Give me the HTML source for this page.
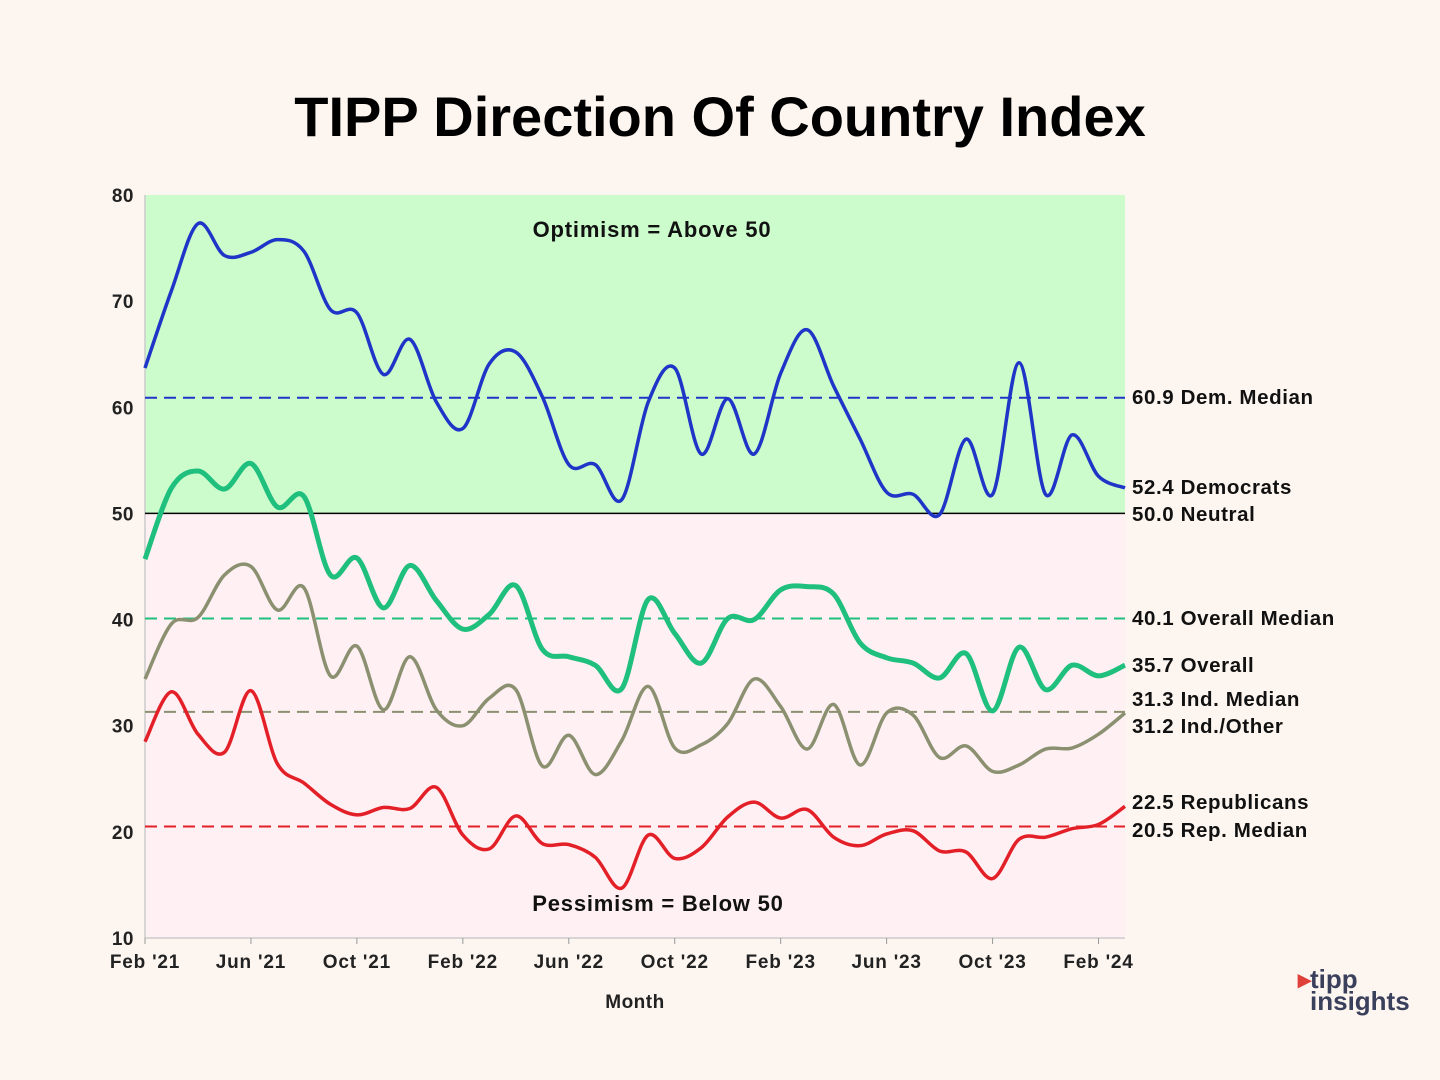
<!DOCTYPE html>
<html><head><meta charset="utf-8"><style>
body{margin:0;background:#fdf6f0;}
svg{display:block;font-family:"Liberation Sans",sans-serif;}
</style></head><body>
<svg id="chart" width="1440" height="1080">
<rect width="1440" height="1080" fill="#fdf6f0"/>
<text x="720" y="136" text-anchor="middle" font-size="56" font-weight="bold" fill="#000">TIPP Direction Of Country Index</text>
<g id="plot"></g>
<g>
<text x="1298" y="988" font-size="26" font-weight="bold" fill="#e0403a">&#9656;</text>
<text x="1310" y="988" font-size="26" font-weight="bold" fill="#3a3f5c">tipp</text>
<text x="1310" y="1010" font-size="26" font-weight="bold" fill="#3a3f5c">insights</text>
</g>
</svg>
<script>
const months=["Feb '21","Jun '21","Oct '21","Feb '22","Jun '22","Oct '22","Feb '23","Jun '23","Oct '23","Feb '24"];
const yTicks=[10,20,30,40,50,60,70,80];
const dem=[63.7,71,77.3,74.3,74.6,75.8,74.7,69.2,68.9,63.1,66.4,60.5,58.0,64.1,65.2,61,54.6,54.6,51.3,60.5,63.7,55.6,60.8,55.6,63.2,67.3,62,57,52,51.8,49.9,57,51.8,64.2,51.8,57.4,53.5,52.4];
const overall=[45.7,52.4,54,52.3,54.7,50.6,51.6,44.2,45.8,41.1,45.1,41.8,39.1,40.5,43.2,37.2,36.5,35.7,33.5,41.9,38.7,35.9,40.1,40,42.8,43.1,42.4,37.8,36.4,35.9,34.5,36.8,31.4,37.4,33.4,35.7,34.7,35.7];
const ind=[34.4,39.6,40.2,44.2,45,40.9,43,34.7,37.5,31.5,36.5,31.5,30,32.6,33.4,26.2,29.1,25.4,28.6,33.7,27.9,28.2,30.2,34.4,31.8,27.8,32,26.3,31.2,31,27,28.1,25.7,26.3,27.8,27.9,29.2,31.2];
const rep=[28.5,33.2,29.2,27.5,33.3,26.4,24.6,22.6,21.6,22.3,22.2,24.2,19.7,18.4,21.5,18.9,18.8,17.6,14.7,19.7,17.5,18.5,21.4,22.8,21.3,22.1,19.5,18.7,19.8,20.1,18.2,18.1,15.6,19.3,19.5,20.3,20.7,22.4];
const medians=[60.9,40.1,31.3,20.5];
const medianLabels=["60.9 Dem. Median","40.1 Overall Median","31.3 Ind. Median","20.5 Rep. Median"];
const endLabels=["52.4 Democrats","35.7 Overall","31.2 Ind./Other","22.5 Republicans"];
const NS="http://www.w3.org/2000/svg";
const X0=145,X1=1125,Y0=938,Y1=195;
const x=i=>X0+(X1-X0)*i/37;
const y=v=>Y0-(v-10)/70*(Y0-Y1);
const g=document.getElementById('plot');
function mk(t,a,txt){const e=document.createElementNS(NS,t);for(const k in a)e.setAttribute(k,a[k]);if(txt!==undefined)e.textContent=txt;g.appendChild(e);return e;}
let e;
e=mk('rect',{x:X0,y:y(80),width:X1-X0,height:y(50)-y(80),fill:'#ccfccc'});


e=mk('rect',{x:X0,y:y(50),width:X1-X0,height:y(10)-y(50),fill:'#fff0f3'});


e=mk('line',{x1:X0,y1:Y1,x2:X0,y2:Y0,stroke:'#ccc','stroke-width':1.5});


e=mk('line',{x1:X0,y1:Y0,x2:X1,y2:Y0,stroke:'#ccc','stroke-width':1.5});


yTicks.forEach(v=>{
 e=mk('text',{x:134,y:y(v)+7,'text-anchor':'end','font-size':19,'font-weight':'bold',fill:'#222','letter-spacing':0.5},v);
 
 
});
months.forEach((m,k)=>{
 const xx=x(k*4);
 e=mk('line',{x1:xx,y1:Y0,x2:xx,y2:Y0+6,stroke:'#999'});
 
 
 e=mk('text',{x:xx,y:968,'text-anchor':'middle','font-size':19,'font-weight':'bold',fill:'#222','letter-spacing':0.8},m);
 
 
});
e=mk('text',{x:635,y:1008,'text-anchor':'middle','font-size':19,'font-weight':'bold',fill:'#222','letter-spacing':0.5},'Month');


e=mk('line',{x1:X0,y1:y(50),x2:X1,y2:y(50),stroke:'#000','stroke-width':1.5});


const mcol=['#1f35c8','#1fbf7e','#8a9070','#e32028'];
medians.forEach((v,k)=>{
 e=mk('line',{x1:X0,y1:y(v),x2:X1,y2:y(v),stroke:mcol[k],'stroke-width':2,'stroke-dasharray':'12,7'});
 
 
});
e=mk('text',{x:652,y:237,'text-anchor':'middle','font-size':22,'font-weight':'bold',fill:'#111','letter-spacing':0.8},'Optimism = Above 50');


e=mk('text',{x:658,y:911,'text-anchor':'middle','font-size':22,'font-weight':'bold',fill:'#111','letter-spacing':0.8},'Pessimism = Below 50');


function path(d){
 const p=d.map((v,i)=>[x(i),y(v)]);
 let s='M'+p[0][0]+','+p[0][1];
 for(let i=0;i<p.length-1;i++){
  const a=p[Math.max(0,i-1)],b=p[i],c=p[i+1],dd=p[Math.min(p.length-1,i+2)];
  const t=6;
  s+=' C'+(b[0]+(c[0]-a[0])/t)+','+(b[1]+(c[1]-a[1])/t)+' '+(c[0]-(dd[0]-b[0])/t)+','+(c[1]-(dd[1]-b[1])/t)+' '+c[0]+','+c[1];
 }
 return s;
}
const series=[[ind,'#8a9070',3.5,'independents-line'],[rep,'#e32028',3.5,'republicans-line'],[overall,'#1fbf7e',5,'overall-line'],[dem,'#1f35c8',3.5,'democrats-line']];
series.forEach(s=>{
 e=mk('path',{d:path(s[0]),fill:'none',stroke:s[1],'stroke-width':s[2],'stroke-linejoin':'round'});
 
 
});
const labs=[[medianLabels[0],404],[endLabels[0],494],["50.0 Neutral",521],[medianLabels[1],625],[endLabels[1],672],[medianLabels[2],706],[endLabels[2],733],[endLabels[3],809],[medianLabels[3],837]];
labs.forEach(l=>{
 e=mk('text',{x:1132,y:l[1],'font-size':20.5,'font-weight':'bold',fill:'#111','letter-spacing':0.6},l[0]);
 
 
});
</script>
</body></html>
